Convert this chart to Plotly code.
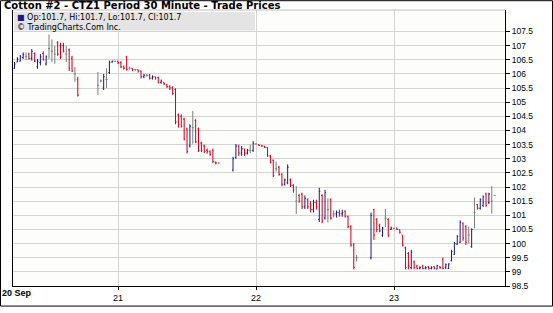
import plotly.graph_objects as go
import pandas as pd
import numpy as np

# ---------------- data ----------------
session_starts = ["2011-09-20 06:00", "2011-09-20 20:30", "2011-09-21 20:00", "2011-09-22 20:00"]
session_counts = [23, 43, 44, 44]

open_ = [
    # session 1
    106.20, 106.42, 106.45, 106.58, 106.62, 106.70, 106.55, 106.72, 106.25, 106.40, 106.72, 106.35,
    106.90, 106.80, 106.70, 107.10, 107.00, 107.00, 106.70, 106.85, 106.55, 106.00, 105.80,
    # session 2
    105.60, 105.75, 105.50, 105.80, 106.05, 106.42, 106.45, 106.45, 106.40, 106.25, 106.60, 106.20,
    106.20, 106.15, 106.15, 106.10, 105.90, 105.95, 105.95, 105.85, 105.90, 105.88, 105.70, 105.70,
    105.62, 105.55, 105.52, 105.45, 104.55, 104.50, 104.40, 104.05, 103.45, 104.10, 104.35, 104.05,
    103.55, 103.45, 103.30, 103.25, 103.30, 102.88, 102.85,
    # session 3
    102.60, 103.05, 103.45, 103.20, 103.35, 103.20, 103.30, 103.30, 103.52, 103.50, 103.47, 103.45,
    103.40, 103.10, 102.95, 102.65, 102.70, 102.45, 102.10, 102.15, 102.25, 102.05, 101.50, 101.70,
    101.75, 101.30, 101.55, 101.40, 101.20, 101.45, 100.85, 101.70, 100.90, 101.20, 101.55, 101.05,
    101.05, 101.10, 101.05, 101.15, 100.95, 100.60, 99.95, 99.50,
    # session 4
    99.50, 101.20, 100.85, 100.65, 100.30, 100.90, 100.85, 100.50, 100.54, 100.55, 100.50, 100.30,
    99.85, 99.65, 99.15, 99.35, 99.20, 99.12, 99.20, 99.12, 99.18, 99.12, 99.18, 99.10,
    99.18, 99.45, 99.15, 99.12, 99.40, 99.62, 99.98, 100.05, 100.70, 100.60, 100.30, 99.90,
    101.10, 101.38, 101.25, 101.35, 101.75, 101.45, 101.50, 101.70,
]
high = [
    106.42, 106.59, 106.67, 106.76, 106.76, 106.75, 106.88, 106.76, 106.53, 106.70, 106.80, 106.65,
    107.39, 107.22, 106.99, 107.16, 107.10, 107.10, 106.99, 106.90, 106.64, 106.24, 105.90,
    106.07, 105.80, 106.00, 106.20, 106.47, 106.47, 106.47, 106.45, 106.45, 106.30, 106.64, 106.25,
    106.20, 106.18, 106.15, 106.12, 106.00, 106.00, 106.00, 105.95, 105.90, 105.90, 105.80, 105.70,
    105.65, 105.60, 105.56, 105.49, 104.60, 104.57, 104.45, 104.10, 104.22, 104.69, 104.40, 104.10,
    103.60, 103.50, 103.36, 103.30, 103.36, 102.90, 102.87,
    103.07, 103.52, 103.50, 103.45, 103.35, 103.35, 103.50, 103.62, 103.55, 103.50, 103.48, 103.45,
    103.41, 103.14, 102.97, 102.90, 102.75, 102.49, 102.30, 102.80, 102.30, 102.10, 102.03, 101.75,
    101.80, 101.70, 101.60, 101.50, 101.55, 101.55, 101.97, 101.75, 101.90, 101.60, 101.60, 101.17,
    101.17, 101.20, 101.20, 101.17, 100.99, 100.65, 100.02, 99.60,
    101.10, 101.23, 100.90, 100.70, 100.59, 101.23, 100.90, 100.60, 100.56, 100.56, 100.50, 100.30,
    99.89, 99.70, 99.78, 99.40, 99.25, 99.20, 99.25, 99.20, 99.20, 99.20, 99.20, 99.25,
    99.20, 99.50, 99.30, 99.30, 99.78, 100.06, 100.30, 100.82, 100.75, 100.65, 100.60, 100.54,
    101.63, 101.40, 101.60, 101.70, 101.80, 101.80, 102.03, 101.70,
]
low = [
    106.18, 106.42, 106.44, 106.53, 106.48, 106.50, 106.47, 106.42, 106.18, 106.30, 106.47, 106.30,
    106.53, 106.42, 106.36, 106.64, 106.53, 106.76, 106.42, 106.10, 106.07, 105.72, 105.20,
    105.26, 105.70, 105.43, 105.50, 106.00, 106.40, 106.42, 106.35, 106.20, 106.15, 106.12, 106.15,
    106.10, 106.10, 106.05, 105.84, 105.85, 105.90, 105.80, 105.80, 105.80, 105.66, 105.65, 105.60,
    105.50, 105.43, 105.26, 104.22, 104.10, 104.10, 103.65, 103.18, 103.40, 103.53, 103.55, 103.24,
    103.24, 103.20, 103.18, 103.10, 102.84, 102.80, 102.83,
    102.55, 103.00, 103.10, 103.10, 103.10, 103.15, 103.20, 103.24, 103.50, 103.45, 103.42, 103.38,
    103.07, 102.83, 102.35, 102.55, 102.40, 102.03, 102.05, 102.10, 102.00, 101.80, 101.05, 101.44,
    101.22, 101.22, 101.22, 101.10, 101.10, 101.20, 100.76, 100.72, 100.85, 100.75, 100.85, 100.92,
    100.92, 100.95, 100.95, 100.92, 100.54, 99.89, 99.09, 99.37,
    99.44, 100.13, 100.40, 100.40, 100.24, 100.58, 100.23, 100.48, 100.52, 100.48, 100.35, 99.90,
    99.09, 99.09, 99.09, 99.09, 99.09, 99.09, 99.09, 99.09, 99.09, 99.09, 99.09, 99.09,
    99.10, 99.09, 99.10, 99.10, 99.37, 99.60, 99.95, 100.02, 100.10, 99.95, 100.00, 99.85,
    100.54, 101.20, 101.20, 101.30, 101.30, 101.40, 101.06, 101.70,
]
close = [
    106.35, 106.52, 106.60, 106.68, 106.62, 106.55, 106.80, 106.45, 106.45, 106.60, 106.50, 106.60,
    106.90, 106.80, 106.70, 106.70, 106.60, 106.80, 106.70, 106.20, 106.10, 106.00, 105.25,
    105.60, 105.75, 105.90, 105.80, 106.40, 106.45, 106.45, 106.40, 106.25, 106.20, 106.15, 106.20,
    106.15, 106.15, 106.10, 105.90, 105.95, 105.95, 105.85, 105.90, 105.85, 105.70, 105.75, 105.65,
    105.55, 105.50, 105.30, 104.30, 104.20, 104.15, 103.70, 103.25, 104.15, 104.10, 103.60, 103.30,
    103.30, 103.25, 103.25, 103.15, 102.90, 102.85, 102.85,
    103.00, 103.45, 103.20, 103.35, 103.20, 103.30, 103.30, 103.55, 103.52, 103.47, 103.45, 103.40,
    103.10, 102.88, 102.40, 102.65, 102.45, 102.10, 102.25, 102.70, 102.05, 101.90, 101.50, 101.50,
    101.30, 101.60, 101.30, 101.20, 101.45, 101.30, 101.85, 100.80, 101.80, 101.20, 100.90, 101.05,
    101.10, 101.05, 101.10, 100.95, 100.60, 99.95, 99.15, 99.50,
    101.00, 100.30, 100.50, 100.45, 100.55, 100.90, 100.30, 100.55, 100.54, 100.50, 100.40, 99.95,
    99.15, 99.20, 99.70, 99.15, 99.12, 99.15, 99.12, 99.15, 99.12, 99.15, 99.12, 99.22,
    99.15, 99.12, 99.25, 99.28, 99.72, 100.00, 100.25, 100.75, 100.20, 100.05, 100.30, 100.50,
    101.10, 101.25, 101.55, 101.65, 101.35, 101.75, 101.50, 101.70,
]

ytick_vals = [98.5, 99, 99.5, 100, 100.5, 101, 101.5, 102, 102.5, 103, 103.5, 104, 104.5,
              105, 105.5, 106, 106.5, 107, 107.5]
day_ticks = ["2011-09-21", "2011-09-22", "2011-09-23"]
day_labels = ["21", "22", "23"]
first_label = "20 Sep"
x_start, x_end = "2011-09-20 05:44", "2011-09-23 19:18"

title_text = "Cotton #2 - CTZ1 Period 30 Minute - Trade Prices"
credit_text = "\u00a9 TradingCharts.Com Inc."

# ---------------- build ----------------
times = []
for s, n in zip(session_starts, session_counts):
    times.extend(pd.date_range(s, periods=n, freq="30min"))
times = pd.DatetimeIndex(times)

o = np.array(open_); h = np.array(high); l = np.array(low); c = np.array(close)
up = c > o
dn = c < o
fl = c == o

RED = "#c8001e"
NAVY = "#1b1b78"
GRAY = "#7c7c7c"

fig = go.Figure()
for mask, col in [(fl, GRAY), (dn, RED), (up, NAVY)]:
    fig.add_trace(go.Ohlc(
        x=times[mask], open=o[mask], high=h[mask], low=l[mask], close=c[mask],
        increasing=dict(line=dict(color=col, width=1)),
        decreasing=dict(line=dict(color=col, width=1)),
        tickwidth=0.35, hoverinfo="skip", showlegend=False,
    ))

FONT = "Liberation Sans, Arial, sans-serif"
TFONT = "DejaVu Sans, Verdana, sans-serif"
W, H = 553, 313
ML, MR, MT, MB = 13, 48, 10, 21
PW, PH = W - ML - MR, H - MT - MB

def px(xp):
    return (xp - ML) / PW

def py(yp):
    return (H - MB - yp) / PH

legend_text = (
    f"<span style='color:{NAVY}'>\u25a0</span> "
    f"Op:{open_[-1]:g}, Hi:{high[-1]:g}, Lo:{low[-1]:g}, Cl:{close[-1]:g}"
    f"<br>{credit_text}"
)

fig.update_layout(
    width=W, height=H,
    margin=dict(l=ML, r=MR, t=MT, b=MB, pad=0),
    paper_bgcolor="white", plot_bgcolor="#fdfdfb",
    font=dict(family=FONT, size=9, color="black"),
    xaxis=dict(
        type="date", range=[x_start, x_end],
        tickmode="array",
        tickvals=day_ticks,
        ticktext=day_labels,
        showgrid=True, gridcolor="#d4d4d4", gridwidth=1,
        showline=True, linecolor="black", linewidth=1,
        ticks="outside", ticklen=3, tickcolor="black",
        tickfont=dict(size=9, family=FONT),
        rangeslider=dict(visible=False), zeroline=False,
    ),
    yaxis=dict(
        side="right", range=[98.5, 108.26],
        tickmode="array", tickvals=ytick_vals,
        ticktext=[f"{v:g}" for v in ytick_vals],
        showgrid=True, gridcolor="#d4d4d4", gridwidth=1,
        showline=True, linecolor="black", linewidth=1, mirror=True,
        ticks="outside", ticklen=4, tickcolor="black",
        tickfont=dict(size=8.5, family=FONT),
        zeroline=False,
    ),
    shapes=[
        # legend box
        dict(type="rect", xref="paper", yref="paper",
             x0=px(14), x1=px(255), y0=py(31), y1=py(12),
             fillcolor="#e4e4e4", line=dict(width=0), layer="above"),
        # top frame line of plot
        dict(type="line", xref="paper", yref="paper", x0=0, x1=1, y0=1, y1=1,
             line=dict(color="#bdbdbd", width=1)),
        # outer border
        dict(type="rect", xref="paper", yref="paper",
             x0=px(0.5), x1=px(W - 0.5), y0=py(H - 0.5), y1=py(0.5),
             line=dict(color="black", width=1), fillcolor="rgba(0,0,0,0)"),
    ],
    annotations=[
        dict(text="<b>" + title_text + "</b>", xref="paper", yref="paper",
             x=px(3), y=py(-1), xanchor="left", yanchor="top", showarrow=False,
             borderpad=0, font=dict(size=10, family=TFONT, color="black")),
        dict(text=legend_text, xref="paper", yref="paper", align="left",
             x=px(16), y=py(12), xanchor="left", yanchor="top", showarrow=False,
             borderpad=0, font=dict(size=8, family=TFONT, color="black")),
        dict(text="<b>" + first_label + "</b>", xref="paper", yref="paper",
             x=px(1), y=py(299), xanchor="left", yanchor="middle", showarrow=False,
             borderpad=0, font=dict(size=9, family=FONT, color="black")),
    ],
)

fig.write_html("out.html")
